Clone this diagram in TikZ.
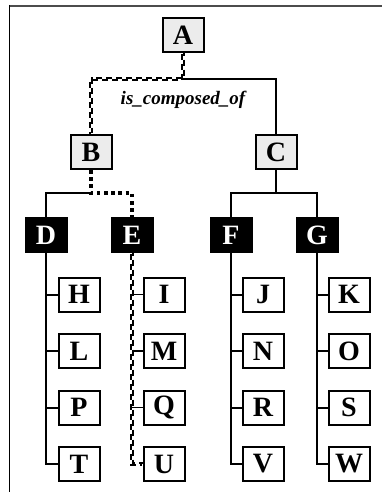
\documentclass[tikz,border=0pt]{standalone}
\usepackage{fontspec}
\setmainfont{Liberation Serif}
\begin{document}
\begin{tikzpicture}[
		x=1pt, y=-1pt,
		partbox/.style={rectangle, draw, line width=2pt, minimum width=41pt, minimum height=34pt, inner sep=0pt, font=\fontsize{28}{28}\selectfont\bfseries},
		headbox/.style={partbox, fill=gray!15},
		groupbox/.style={partbox, fill=black, text=white},
		leafbox/.style={partbox, fill=white},
		link/.style={line width=2pt},
		stub/.style={line width=1.5pt},
		dotline/.style={line width=3.6pt, dash pattern=on 3.6pt off 3.6pt},
		hatchhi/.style={line width=1.7pt, dash pattern=on 6pt off 4pt, dash phase=2.5pt},
		hatchlo/.style={line width=1.7pt, dash pattern=on 6pt off 4pt}
	]
	\useasboundingbox (0,0) rectangle (382,492);
	% window edge
	\draw[gray!60!black, line width=2pt] (9,6) -- (382,6);
	\draw[line width=1pt] (9,5) -- (9,492);

	% top levels
	\node[headbox] (A) at (183,35) {A};
	\node[headbox] (B) at (91,152) {B};
	\node[headbox] (C) at (276,152) {C};
	\coordinate (aj) at (183,79);
	\coordinate (bj) at (91,193);
	\coordinate (cj) at (276,193);

	\node[font=\fontsize{19}{19}\selectfont\bfseries\itshape] (rel) at (183,100) {is\_composed\_of};

	% groups
	\node[groupbox] (D) at (46,235) {D};
	\node[groupbox] (E) at (132,235) {E};
	\node[groupbox] (F) at (231,235) {F};
	\node[groupbox] (G) at (317,235) {G};

	% leaves
	\foreach \a/\b/\c/\d [count=\i] in {H/I/J/K, L/M/N/O, P/Q/R/S, T/U/V/W} {
		\node[leafbox] (\a) at (79,238+56.5*\i) {\a};
		\node[leafbox] (\b) at (164,238+56.5*\i) {\b};
		\node[leafbox] (\c) at (263,238+56.5*\i) {\c};
		\node[leafbox] (\d) at (349,238+56.5*\i) {\d};
	}

	% connectors
	\begin{scope}[transform canvas={shift={(0.8pt,0.8pt)}}]
		\draw[hatchhi] (A) -- (aj) -| (B);
		\draw[hatchhi] (E) |- (U);
	\end{scope}
	\begin{scope}[transform canvas={shift={(-0.8pt,-0.8pt)}}]
		\draw[hatchlo] (A) -- (aj) -| (B);
		\draw[hatchlo] (E) |- (U);
	\end{scope}
	\draw[link] (aj) -| (C);
	\draw[dotline] (B) -- (bj) -| (E);
	\draw[link] (bj) -| (D);
	\draw[link] (C) -- (cj) -| (F);
	\draw[link] (cj) -| (G);

	\foreach \p/\c in {D/H, D/L, D/P, D/T, F/J, F/N, F/R, F/V, G/K, G/O, G/S, G/W}
		\draw[link] (\p) |- (\c);
	\foreach \c in {I, M, Q}
		\draw[stub] (\c.west) -- (\c.west -| E.south);
\end{tikzpicture}
\end{document}
